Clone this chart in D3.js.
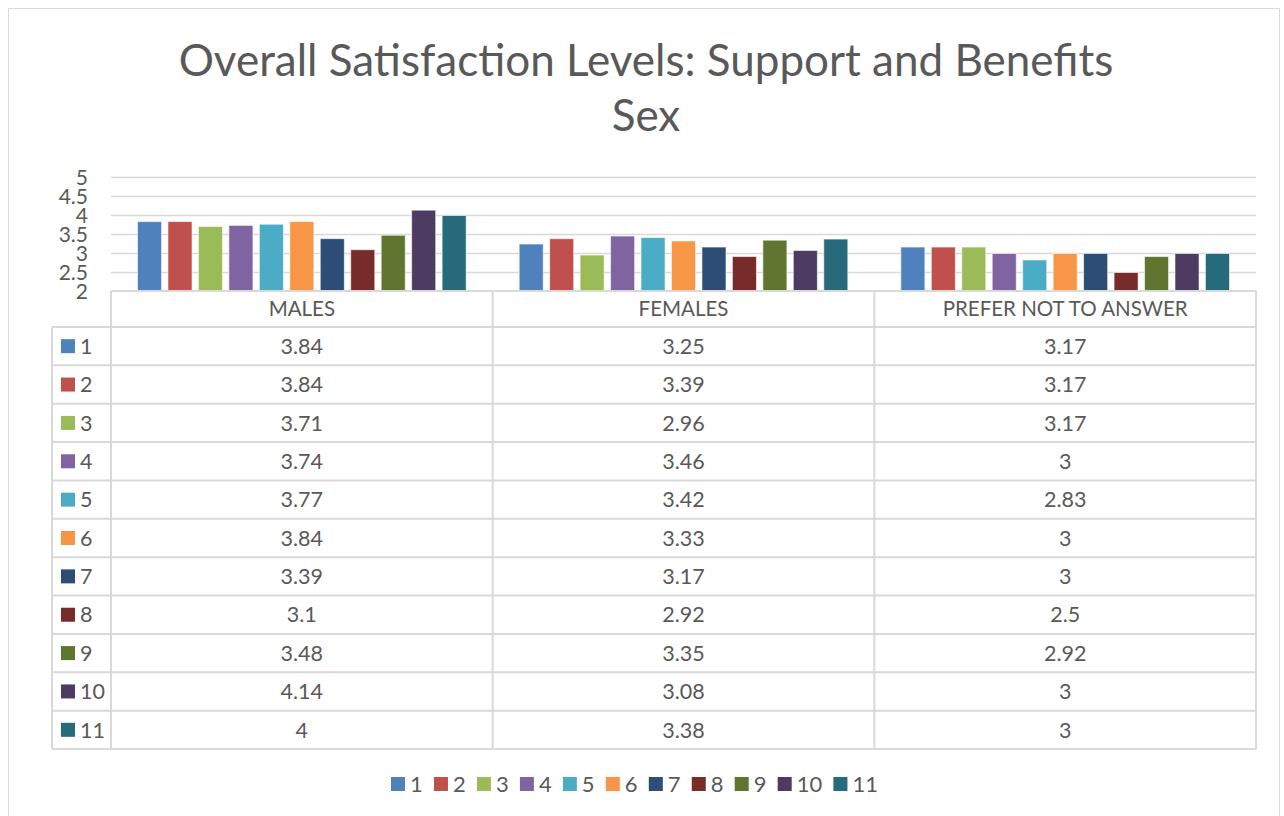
<!DOCTYPE html>
<html><head><meta charset="utf-8">
<script src="https://cdn.jsdelivr.net/npm/d3@7"></script>
<style>
body{margin:0;background:#fff;}
svg{display:block;font-family:Lato, "Open Sans", sans-serif;}
</style></head>
<body>
<svg id="c" width="1284" height="816"></svg>
<script>
const titleLines = ["Overall Satisfaction Levels: Support and Benefits", "Sex"];
const categories = ["MALES", "FEMALES", "PREFER NOT TO ANSWER"];
const seriesNames = ["1","2","3","4","5","6","7","8","9","10","11"];
const s1  = [3.84, 3.25, 3.17];
const s2  = [3.84, 3.39, 3.17];
const s3  = [3.71, 2.96, 3.17];
const s4  = [3.74, 3.46, 3];
const s5  = [3.77, 3.42, 2.83];
const s6  = [3.84, 3.33, 3];
const s7  = [3.39, 3.17, 3];
const s8  = [3.1, 2.92, 2.5];
const s9  = [3.48, 3.35, 2.92];
const s10 = [4.14, 3.08, 3];
const s11 = [4, 3.38, 3];
const seriesValues = [s1,s2,s3,s4,s5,s6,s7,s8,s9,s10,s11];
const colors = ["#4F81BD","#C0504D","#9BBB59","#8064A2","#4BACC6","#F79646","#2C4D75","#772C2A","#5F7530","#4D3B62","#276A7C"];
const yTicks = [2, 2.5, 3, 3.5, 4, 4.5, 5];

const svg = d3.select("#c");
const textColor = "#595959", gridColor = "#d9d9d9";

// outer border
svg.append("rect").attr("x",8.5).attr("y",8.5).attr("width",1271).attr("height",820)
  .attr("fill","none").attr("stroke",gridColor).attr("stroke-width",1);

// title
svg.append("text").attr("x",646).attr("y",76).attr("text-anchor","middle")
  .attr("font-size",44).attr("fill",textColor).text(titleLines[0]);
svg.append("text").attr("x",646).attr("y",131).attr("text-anchor","middle")
  .attr("font-size",44).attr("fill",textColor).text(titleLines[1]);

const left = 111, right = 1256;
const y = d3.scaleLinear().domain([2,5]).range([291.5, 177.5]);
const x0 = d3.scaleBand().domain(categories).range([left, right]).padding(0);
const x1 = d3.scaleBand().domain(seriesNames).range([0, x0.bandwidth()]).paddingInner(0.21).paddingOuter(0.87);

// gridlines
svg.append("g").selectAll("line").data(yTicks.filter(d=>d>2)).join("line")
  .attr("x1",left).attr("x2",right).attr("y1",d=>y(d)).attr("y2",d=>y(d))
  .attr("stroke",gridColor).attr("stroke-width",1.5);

// y axis
const yAxis = svg.append("g").attr("transform",`translate(${left},0)`)
  .call(d3.axisLeft(y).tickValues(yTicks).tickSize(0).tickPadding(23).tickFormat(d3.format("")));
yAxis.select(".domain").remove();
yAxis.selectAll("text").attr("font-size",21).attr("fill",textColor).attr("font-family","Lato, sans-serif");

// bars
const groups = svg.append("g").selectAll("g").data(categories).join("g")
  .attr("transform",d=>`translate(${x0(d)},0)`);
groups.selectAll("rect").data((c,ci)=>seriesNames.map((s,si)=>({s,si,v:seriesValues[si][ci]}))).join("rect")
  .attr("x",d=>x1(d.s)).attr("width",x1.bandwidth())
  .attr("y",d=>y(d.v)).attr("height",d=>y(2)-y(d.v))
  .attr("fill",d=>colors[d.si]).attr("stroke","rgba(255,255,255,0.6)").attr("stroke-width",1);

// data table
const headerTop = 291, headerBot = 327, tableBot = 749, keyLeft = 52;
const rowH = (tableBot - headerBot) / seriesNames.length;
const tg = svg.append("g");
const lineAttr = sel => sel.attr("stroke",gridColor).attr("stroke-width",2);
tg.append("line").attr("x1",left).attr("x2",right).attr("y1",headerTop).attr("y2",headerTop).call(lineAttr);
const rowYs = d3.range(seriesNames.length+1).map(i=>headerBot + i*rowH);
tg.selectAll("line.row").data(rowYs).join("line").attr("class","row")
  .attr("x1",keyLeft).attr("x2",right).attr("y1",d=>d).attr("y2",d=>d).call(lineAttr);
const colXs = categories.map(c=>x0(c)).concat([right]);
tg.selectAll("line.col").data(colXs).join("line").attr("class","col")
  .attr("x1",d=>d).attr("x2",d=>d).attr("y1",headerTop).attr("y2",tableBot).call(lineAttr);
tg.append("line").attr("x1",keyLeft).attr("x2",keyLeft).attr("y1",headerBot).attr("y2",tableBot).call(lineAttr);

// header labels
tg.selectAll("text.hdr").data(categories).join("text").attr("class","hdr")
  .attr("x",d=>x0(d)+x0.bandwidth()/2).attr("y",(headerTop+headerBot)/2).attr("dy","0.36em")
  .attr("text-anchor","middle").attr("font-size",20.5).attr("fill",textColor).text(d=>d);

// rows
seriesNames.forEach((s,si)=>{
  const cy = headerBot + si*rowH + rowH/2;
  tg.append("rect").attr("x",61).attr("y",cy-7).attr("width",14).attr("height",14).attr("fill",colors[si]);
  tg.append("text").attr("x",80).attr("y",cy).attr("dy","0.36em").attr("font-size",21.5).attr("fill",textColor).text(s);
  categories.forEach((c,ci)=>{
    tg.append("text").attr("x",x0(c)+x0.bandwidth()/2).attr("y",cy).attr("dy","0.36em")
      .attr("text-anchor","middle").attr("font-size",21.5).attr("fill",textColor).text(seriesValues[si][ci]);
  });
});

// legend
const lg = svg.append("g");
let lx = 391;
seriesNames.forEach((s,si)=>{
  const item = lg.append("g").attr("transform",`translate(${lx},0)`);
  item.append("rect").attr("x",0).attr("y",777).attr("width",14).attr("height",14).attr("fill",colors[si]);
  const t = item.append("text").attr("x",19).attr("y",784).attr("dy","0.36em").attr("font-size",22).attr("fill",textColor).text(s);
  lx += 19 + t.node().getComputedTextLength() + 11.2;
});
</script>
</body></html>
